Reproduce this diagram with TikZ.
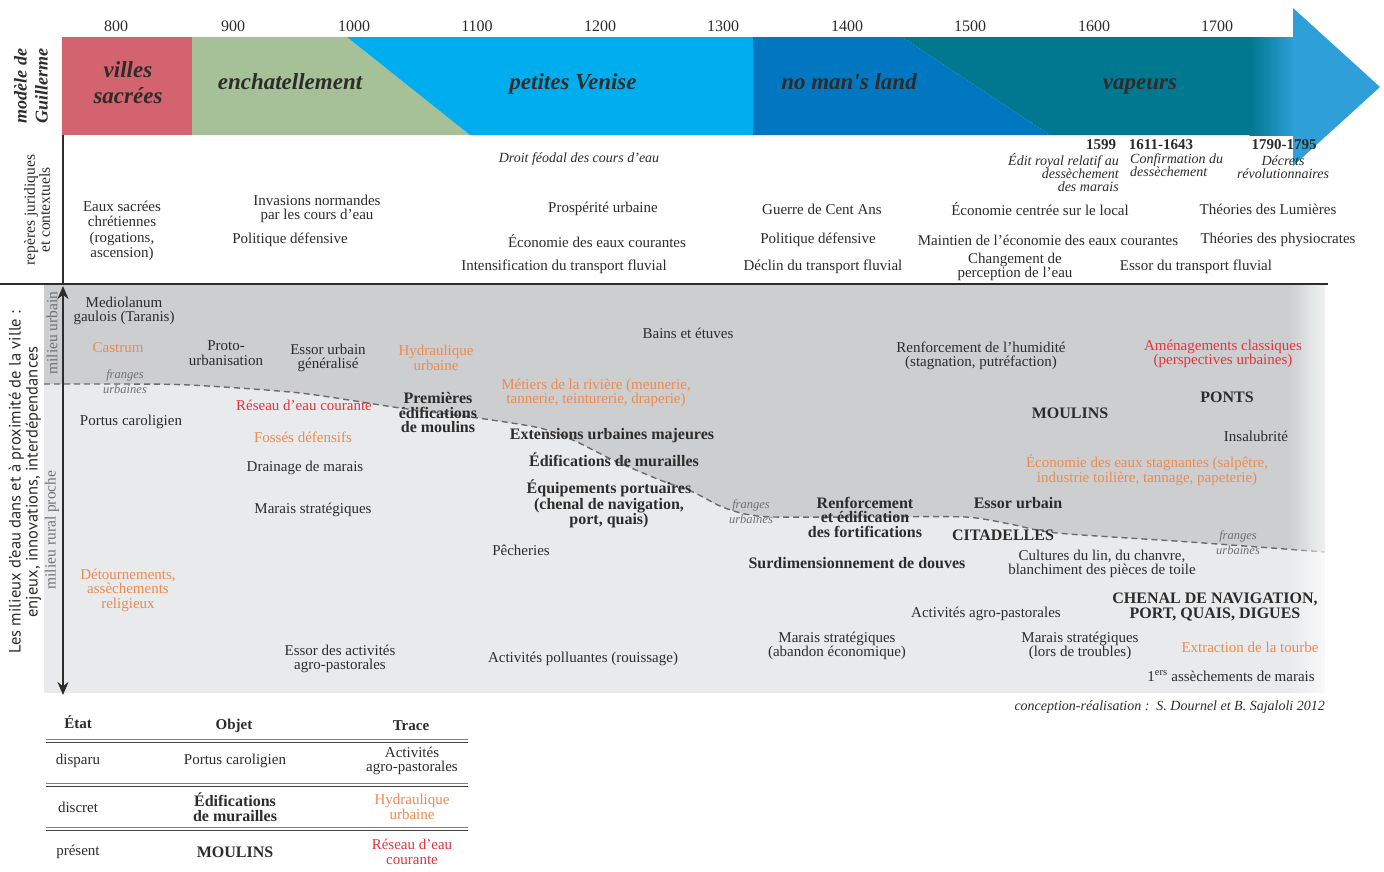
\documentclass[tikz,border=0pt]{standalone}
\usepackage{fontspec}
\setmainfont{Liberation Serif}
\newfontfamily\sansfam{PT Sans}
\usetikzlibrary{arrows.meta,fadings}
\definecolor{ink}{HTML}{2D2C2B}
\definecolor{corange}{HTML}{EE8A4E}
\definecolor{cred}{HTML}{E5333B}
\definecolor{bandred}{HTML}{D3646F}
\definecolor{bandgreen}{HTML}{A6C097}
\definecolor{bandcyan}{HTML}{00AEEF}
\definecolor{banddblue}{HTML}{0077C0}
\definecolor{bandteal}{HTML}{00788F}
\definecolor{arrowblue}{HTML}{2E9FD9}
\definecolor{upgray}{HTML}{CDCED0}
\definecolor{lowgray}{HTML}{E9EAEC}
\definecolor{midtxt}{HTML}{6F7072}
\definecolor{dashgray}{HTML}{6A6B6D}
\tikzfading[name=fadetoright, left color=transparent!100, right color=transparent!25]
\begin{document}
\begin{tikzpicture}[x=1pt,y=-1pt,
 tx/.style={font=\fontsize{15}{14.5}\selectfont, text=ink, align=center, inner sep=0pt},
 bx/.style={tx, font=\fontsize{16}{14.5}\selectfont\bfseries},
 ox/.style={tx, text=corange},
 rx/.style={tx, text=cred},
 fr/.style={font=\fontsize{12.5}{15}\selectfont\itshape, text=midtxt, align=center, inner sep=0pt},
 hd/.style={font=\fontsize{23}{26}\selectfont\bfseries\itshape, text=ink, align=center, inner sep=0pt, anchor=base},
 yr/.style={font=\fontsize{16}{16}\selectfont, text=ink, inner sep=0pt},
 itx/.style={font=\fontsize{14}{13}\selectfont\itshape, text=ink, inner sep=0pt},
 yb/.style={font=\fontsize{15}{15}\selectfont\bfseries, text=ink, inner sep=0pt},
 side/.style={font=\fontsize{15.5}{14}\selectfont, text=midtxt, rotate=90, align=center, inner sep=0pt},
 tabrule/.style={line width=1.6pt, draw=ink!90},
 tabthin/.style={line width=0.5pt, draw=ink!60},
 frontier/.style={draw=dashgray, line width=1.4pt, dash pattern=on 6pt off 4pt},
]
\useasboundingbox (0,0) rectangle (1384,871);
\fill[white] (0,0) rectangle (1384,871);

% ---------- top band ----------
\fill[bandred] (62,37) rectangle (192,135);
\fill[bandgreen] (192,37) -- (347,37) -- (470,135) -- (192,135) -- cycle;
\fill[bandcyan] (347,37) -- (753,37) -- (753,135) -- (470,135) -- cycle;
\fill[banddblue] (753,37) -- (902,37) -- (1050,135) -- (753,135) -- cycle;
\fill[bandteal] (902,37) -- (1250,37) -- (1250,135) -- (1050,135) -- cycle;
\shade[left color=bandteal, right color=arrowblue] (1249.5,37) rectangle (1294,135);
\fill[arrowblue] (1293,8) -- (1380,87) -- (1293,166) -- cycle;

\node[hd] (h1) at (128,103) {villes\\sacrées};
\node[hd] (h2) at (290,89) {enchatellement};
\node[hd] (h3) at (573,89) {petites Venise};
\node[hd] (h4) at (849,89) {no man\textquotesingle s land};
\node[hd] (h5) at (1140,89) {vapeurs};

\foreach \yv/\xv in {800/116,900/233,1000/354,1100/477,1200/600,1300/723,1400/847,1500/970,1600/1094,1700/1217}
  \node[yr] (y\yv) at (\xv,26) {\yv};

% ---------- gray area ----------
\fill[lowgray] (44,285) rectangle (1325,693);
\fill[upgray] (44,285) -- plot[smooth, tension=0.45] coordinates {(44,384) (120,384) (190,385) (300,393) (400,408) (478,418) (540,428) (575,441) (613,460) (660,480) (693,492) (720,506) (745,514) (775,517) (870,517) (965,517) (1010,524) (1057,533) (1190,542) (1325,552)} -- (1325,285) -- cycle;
\draw[frontier] plot[smooth, tension=0.45] coordinates {(44,384) (120,384) (190,385) (300,393) (400,408) (478,418) (540,428) (575,441) (613,460) (660,480) (693,492) (720,506) (745,514) (775,517) (870,517) (965,517) (1010,524) (1057,533) (1190,542) (1325,552)};
\fill[white, path fading=fadetoright] (1288,285) rectangle (1326,694);

% ---------- lines ----------
\coordinate (hl0) at (0,284);
\coordinate (hl1) at (1328,284);
\draw[line width=1.2pt, ink] (hl0) -- (hl1);
\coordinate (lgtop) at (63,135);
\coordinate (lgbot) at (63,284);
\draw[line width=1.6pt, ink] (lgtop) -- (lgbot);
\coordinate (axtop) at (63,286);
\coordinate (axbot) at (63,695);
\draw[line width=2.2pt, ink, {Stealth[length=13pt,width=11pt]}-{Stealth[length=13pt,width=11pt]}] (axtop) -- (axbot);

% ---------- side labels ----------
\node[font=\fontsize{18}{21}\selectfont\bfseries\itshape, text=ink, rotate=90, align=center, inner sep=0pt] (mg) at (31,86) {modèle de\\Guillerme};
\node[side, text=ink] (rj) at (37,210) {repères juridiques\\et contextuels};
\node[rotate=90, font=\sansfam\fontsize{16.5}{17}\selectfont, text=ink, align=center, inner sep=0pt] (lm) at (25,482) {Les milieux d’eau dans et à proximité de la ville :\\enjeux, innovations, interdépendances};
\node[side] (mu) at (52,333) {milieu urbain};
\node[side] (mr) at (52,530) {milieu rural proche};

% ---------- legal / context ----------
\node[itx] (l1) at (579,159) {Droit féodal des cours d’eau};
\node[tx, font=\fontsize{15}{15.5}\selectfont] (l2) at (122,231) {Eaux sacrées\\chrétiennes\\(rogations,\\ascension)};
\node[tx] (l3) at (317,209) {Invasions normandes\\par les cours d’eau};
\node[tx] (l4) at (290,240) {Politique défensive};
\node[tx] (l5) at (603,209) {Prospérité urbaine};
\node[tx] (l6) at (597,241) {Économie des eaux courantes};
\node[tx] (l7) at (564,267) {Intensification du transport fluvial};
\node[tx] (l8) at (822,209) {Guerre de Cent Ans};
\node[tx] (l9) at (818,240) {Politique défensive};
\node[tx] (l10) at (823,267) {Déclin du transport fluvial};
\node[yb] (d1) at (1101,145) {1599};
\node[itx, align=right, anchor=north east] (d1t) at (1119,153) {Édit royal relatif au\\dessèchement\\des marais};
\node[yb] (d2) at (1161,145) {1611-1643};
\node[itx, align=left, anchor=north west] (d2t) at (1130,153) {Confirmation du\\dessèchement};
\node[yb] (d3) at (1284,145) {1790-1795};
\node[itx, align=center] (d3t) at (1283,167) {Décrets\\révolutionnaires};
\node[tx] (l11) at (1040,209) {Économie centrée sur le local};
\node[tx] (l12) at (1048,240) {Maintien de l’économie des eaux courantes};
\node[tx] (l13) at (1015,267) {Changement de\\perception de l’eau};
\node[tx] (l14) at (1268,209) {Théories des Lumières};
\node[tx] (l15) at (1278,240) {Théories des physiocrates};
\node[tx] (l16) at (1196,267) {Essor du transport fluvial};

% ---------- gray area texts ----------
\node[tx] (n1) at (124,311) {Mediolanum\\gaulois (Taranis)};
\node[ox] (n2) at (118,348) {Castrum};
\node[fr] (n3) at (125,382) {franges\\urbaines};
\node[tx] (n4) at (226,353) {Proto-\\urbanisation};
\node[tx] (n5) at (328,358) {Essor urbain\\généralisé};
\node[ox] (n6) at (436,358) {Hydraulique\\urbaine};
\node[tx] (n7) at (131,422) {Portus caroligien};
\node[rx] (n8) at (304,405) {Réseau d’eau courante};
\node[ox] (n9) at (303,437) {Fossés défensifs};
\node[tx] (n10) at (305,468) {Drainage de marais};
\node[tx] (n11) at (313,510) {Marais stratégiques};
\node[ox] (n12) at (128,590) {Détournements,\\assèchements\\religieux};
\node[tx] (n13) at (340,659) {Essor des activités\\agro-pastorales};
\node[bx] (n14) at (438,413) {Premières\\édifications\\de moulins};
\node[tx] (n15) at (688,333) {Bains et étuves};
\node[ox] (n16) at (596,393) {Métiers de la rivière (meunerie,\\tannerie, teinturerie, draperie)};
\node[bx] (n17) at (612,436) {Extensions urbaines majeures};
\node[bx] (n18) at (614,460) {Édifications de murailles};
\node[bx] (n19) at (609,504) {Équipements portuaires\\(chenal de navigation,\\port, quais)};
\node[tx] (n20) at (521,550) {Pêcheries};
\node[tx] (n21) at (583,659) {Activités polluantes (rouissage)};
\node[fr] (n22) at (751,512) {franges\\urbaines};
\node[bx] (n23) at (865,517) {Renforcement\\et édification\\des fortifications};
\node[bx] (n24) at (857,563) {Surdimensionnement de douves};
\node[tx] (n25) at (837,646) {Marais stratégiques\\(abandon économique)};
\node[tx] (n26) at (981,356) {Renforcement de l’humidité\\(stagnation, putréfaction)};
\node[bx] (n27) at (1070,413) {MOULINS};
\node[bx] (n28) at (1018,503) {Essor urbain};
\node[bx] (n29) at (1003,535) {CITADELLES};
\node[tx] (n30) at (1102,564) {Cultures du lin, du chanvre,\\blanchiment des pièces de toile};
\node[tx] (n31) at (986,614) {Activités agro-pastorales};
\node[tx] (n32) at (1080,646) {Marais stratégiques\\(lors de troubles)};
\node[rx] (n33) at (1223,354) {Aménagements classiques\\(perspectives urbaines)};
\node[bx] (n34) at (1227,397) {PONTS};
\node[tx] (n35) at (1256,436) {Insalubrité};
\node[ox] (n36) at (1147,470) {Économie des eaux stagnantes (salpêtre,\\industrie toilière, tannage, papeterie)};
\node[fr] (n37) at (1238,543) {franges\\urbaines};
\node[bx] (n38) at (1215,607) {CHENAL DE NAVIGATION,\\PORT, QUAIS, DIGUES};
\node[ox] (n39) at (1250,647) {Extraction de la tourbe};
\node[tx] (n40) at (1231,676) {1\textsuperscript{ers} assèchements de marais};
\node[itx, anchor=east] (cr) at (1325,707) {conception-réalisation :\ \ S. Dournel et B. Sajaloli 2012};

% ---------- table ----------
\draw[tabthin] (46,739.5) -- (468,739.5);
\draw[tabrule] (46,742.5) -- (468,742.5);
\draw[tabthin] (46,783.5) -- (468,783.5);
\draw[tabrule] (46,786.5) -- (468,786.5);
\draw[tabthin] (46,827.5) -- (468,827.5);
\draw[tabrule] (46,830.5) -- (468,830.5);
\node[yb] (th1) at (78,722) {État};
\node[yb] (th2) at (234,726) {Objet};
\node[yb] (th3) at (411,726) {Trace};
\node[tx] (r1a) at (78,761) {disparu};
\node[tx] (r1b) at (235,761) {Portus caroligien};
\node[tx] (r1c) at (412,761) {Activités\\agro-pastorales};
\node[tx] (r2a) at (78,807) {discret};
\node[bx] (r2b) at (235,807) {Édifications\\de murailles};
\node[ox] (r2c) at (412,807) {Hydraulique\\urbaine};
\node[tx] (r3a) at (78,852) {présent};
\node[bx] (r3b) at (235,852) {MOULINS};
\node[rx] (r3c) at (412,852) {Réseau d’eau\\courante};
\end{tikzpicture}
\end{document}
